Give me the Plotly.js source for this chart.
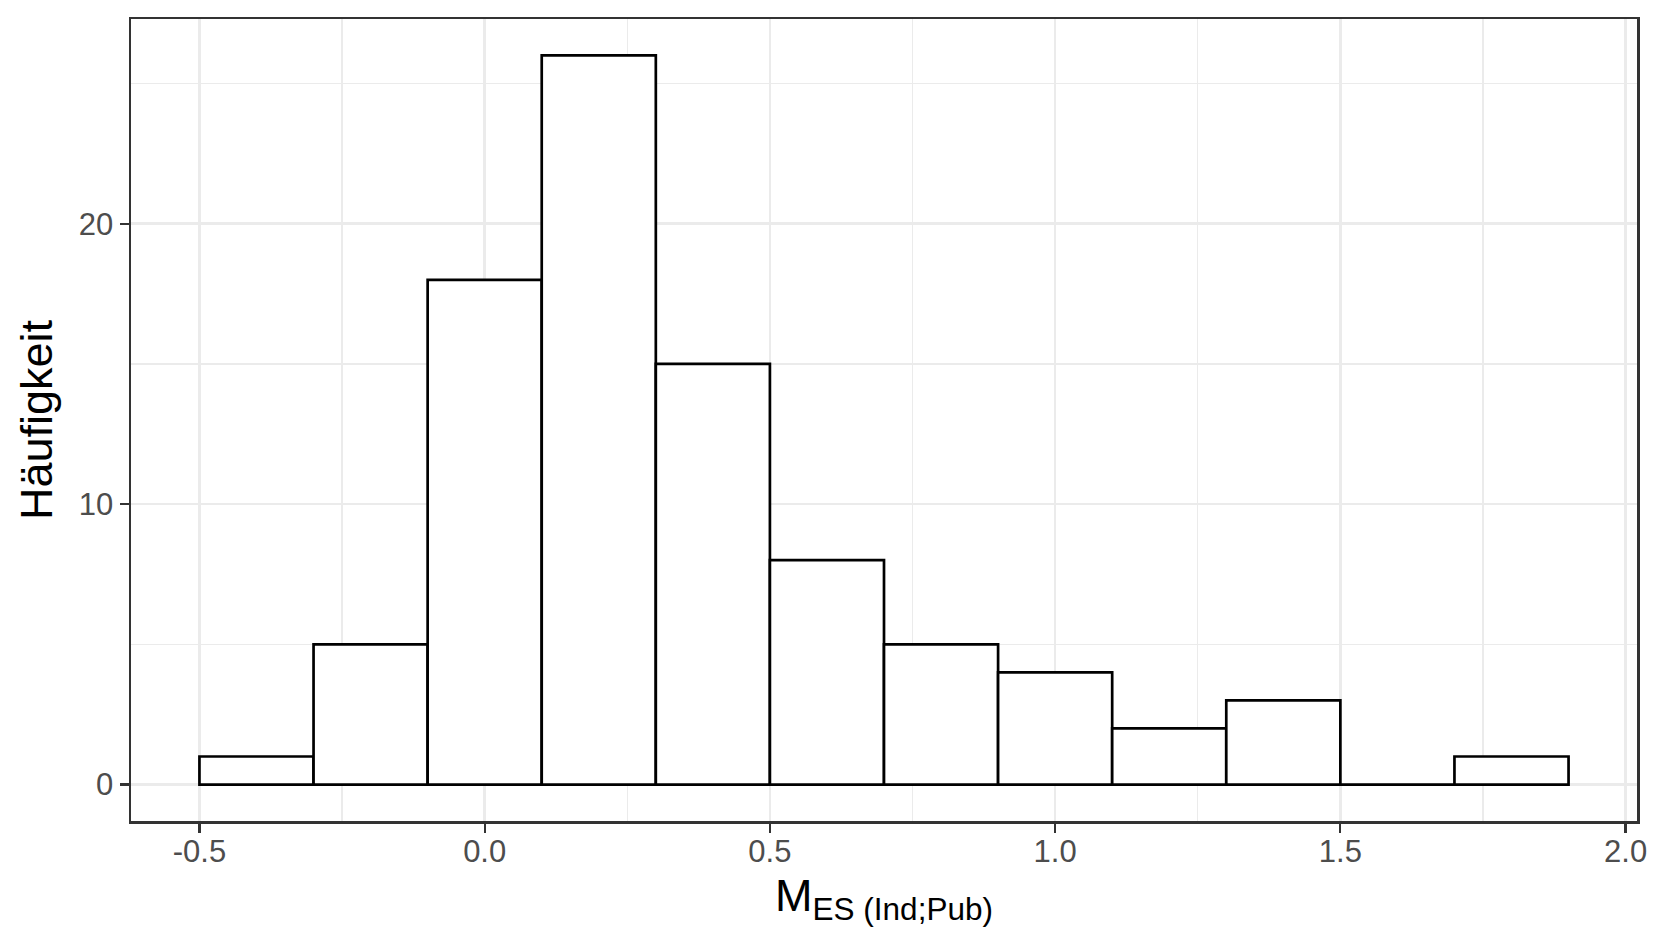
<!DOCTYPE html>
<html>
<head>
<meta charset="utf-8">
<script src="https://cdn.plot.ly/plotly-3.0.1.min.js"></script>
<style>
  html, body { margin: 0; padding: 0; background: #fff; }
  #plot { width: 1654px; height: 945px; }
</style>
</head>
<body>
<div id="plot"></div>
<script>
// histogram bins (width 0.2) and counts
var binStarts = [-0.5, -0.3, -0.1, 0.1, 0.3, 0.5, 0.7, 0.9, 1.1, 1.3, 1.5, 1.7];
var binWidth = 0.2;
var counts = [1, 5, 18, 26, 15, 8, 5, 4, 2, 3, 0, 1];

var xTickVals = [-0.5, 0, 0.5, 1, 1.5, 2];
var xTickText = ['-0.5', '0.0', '0.5', '1.0', '1.5', '2.0'];
var yTickVals = [0, 10, 20];
var yTickText = ['0', '10', '20'];

var centers = binStarts.map(function(s) { return s + binWidth / 2; });

var trace = {
  type: 'bar',
  x: centers,
  y: counts,
  width: binStarts.map(function() { return binWidth; }),
  marker: {color: '#FFFFFF', line: {color: '#000000', width: 2.7}},
  hoverinfo: 'x+y'
};

var gridCol = '#EBEBEB';
var font = 'Liberation Sans, Arial, sans-serif';

var layout = {
  width: 1654,
  height: 945,
  margin: {l: 131, r: 17, t: 19, b: 124},
  paper_bgcolor: '#FFFFFF',
  plot_bgcolor: '#FFFFFF',
  showlegend: false,
  bargap: 0,
  font: {family: font},
  xaxis: {
    range: [-0.62, 2.02],
    tickmode: 'array',
    tickvals: xTickVals,
    ticktext: xTickText,
    ticks: 'outside',
    ticklen: 9,
    tickwidth: 2.2,
    tickcolor: '#333333',
    ticklabelstandoff: -8,
    tickfont: {family: font, size: 31, color: '#4D4D4D'},
    showgrid: true,
    gridcolor: gridCol,
    gridwidth: 2.7,
    zeroline: false,
    showline: true,
    mirror: true,
    linecolor: '#333333',
    linewidth: 2.5,
    minor: {tickmode: 'linear', tick0: 0, dtick: 0.25, showgrid: true, gridcolor: gridCol, gridwidth: 1.4, ticks: ''},
    title: {
      text: 'M<sub>ES (Ind;Pub)</sub>',
      font: {family: font, size: 45, color: '#000000'},
      standoff: 12
    },
    automargin: false
  },
  yaxis: {
    range: [-1.3, 27.3],
    tickmode: 'array',
    tickvals: yTickVals,
    ticktext: yTickText,
    ticks: 'outside',
    ticklen: 9,
    tickwidth: 2.2,
    tickcolor: '#333333',
    ticklabelstandoff: 0,
    tickfont: {family: font, size: 31, color: '#4D4D4D'},
    showgrid: true,
    gridcolor: gridCol,
    gridwidth: 2.7,
    zeroline: false,
    showline: true,
    mirror: true,
    linecolor: '#333333',
    linewidth: 2.5,
    minor: {tickmode: 'linear', tick0: 0, dtick: 5, showgrid: true, gridcolor: gridCol, gridwidth: 1.4, ticks: ''},
    title: {
      text: 'Häufigkeit',
      font: {family: font, size: 45, color: '#000000'},
      standoff: 12
    },
    automargin: false
  }
};

Plotly.newPlot('plot', [trace], layout, {displayModeBar: false, staticPlot: true});
</script>
</body>
</html>
